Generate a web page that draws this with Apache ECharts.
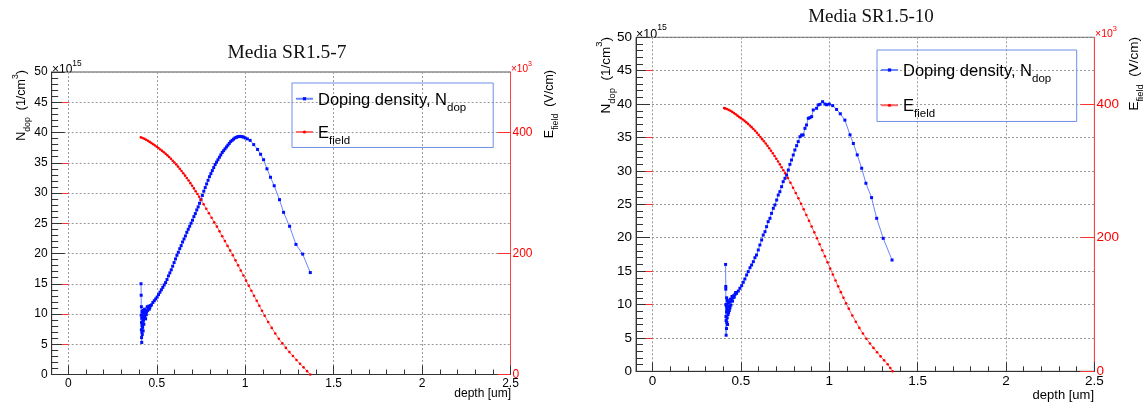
<!DOCTYPE html>
<html><head><meta charset="utf-8">
<script src="https://cdn.jsdelivr.net/npm/echarts@6/dist/echarts.min.js"></script>
<style>html,body{margin:0;padding:0;background:#fff}#c{width:1148px;height:405px}</style>
</head><body><div id="c"></div>
<script>
// ---------------- data ----------------
const titles = ['Media SR1.5-7', 'Media SR1.5-10'];
const xMajorTicks = [0, 0.5, 1, 1.5, 2, 2.5];
const xMinorTicks = [0.1,0.2,0.3,0.4,0.6,0.7,0.8,0.9,1.1,1.2,1.3,1.4,1.6,1.7,1.8,1.9,2.1,2.2,2.3,2.4];
const eLabelTicks = [0, 200, 400];
const eMinorTicks = [50,100,150,250,300,350,450];

// Panel 1 (SR1.5-7): doping density [1e15 /cm^3] vs depth [um]
const depthN7 = [
 0.411,0.412,0.412,0.413,0.413,0.414,0.414,0.415,0.415,0.416,
 0.417,0.417,0.418,0.419,0.420,0.421,0.422,0.423,0.424,0.425,
 0.427,0.428,0.430,0.431,0.433,0.435,0.437,0.439,0.441,0.443,
 0.446,0.449,0.452,0.455,0.458,0.461,0.465,
 0.470,0.478,0.486,0.494,0.502,0.510,0.518,0.526,0.534,0.542,
 0.550,0.558,0.566,0.574,0.582,0.590,0.598,0.606,0.614,0.622,
 0.630,0.638,0.646,0.654,0.662,0.670,0.678,0.686,0.694,0.702,
 0.710,0.718,0.726,0.734,0.742,0.750,0.758,0.766,0.774,0.782,
 0.790,0.798,0.806,0.814,0.822,0.830,0.838,0.846,0.854,0.862,
 0.870,0.878,0.886,0.894,0.902,0.910,0.918,0.926,0.934,0.942,
 0.950,0.958,0.966,0.974,0.982,0.990,
 1.000,1.012,1.028,1.048,1.070,1.087,1.104,1.123,1.143,1.164,
 1.194,1.217,1.251,1.287,1.325,1.368
];
const ndop7 = [
 15.0,13.1,9.8,7.4,11.2,6.1,8.6,5.3,9.3,7.0,
 10.4,8.1,6.6,9.6,7.8,10.1,8.8,7.2,10.6,9.0,
 8.3,10.2,9.4,10.8,9.6,10.0,9.2,10.5,9.9,10.4,
 11.2,10.6,10.9,11.3,10.8,11.1,11.4,
 11.5,11.9,12.2,12.5,12.8,13.2,13.6,14.0,14.4,14.8,
 15.2,15.7,16.3,16.8,17.3,17.9,18.5,19.1,19.7,20.2,
 20.8,21.3,21.9,22.4,22.9,23.5,24.0,24.5,25.0,25.5,
 26.1,26.6,27.2,27.7,28.3,28.9,29.6,30.3,30.9,31.5,
 32.1,32.7,33.2,33.7,34.2,34.7,35.1,35.5,35.9,36.3,
 36.7,37.0,37.3,37.6,37.9,38.2,38.5,38.7,38.9,39.1,
 39.2,39.3,39.35,39.35,39.3,39.25,
 39.1,38.95,38.7,38.0,37.2,36.4,35.5,34.0,32.6,31.2,
 28.9,26.8,24.5,21.5,19.9,16.85
];
// Panel 1: electric field [1e3 V/cm] vs depth [um]
const depthE7 = [
 0.41,0.42,0.43,0.44,0.45,0.46,0.47,0.48,0.49,0.50,
 0.51,0.52,0.53,0.54,0.55,0.56,0.57,0.58,0.59,0.60,
 0.61,0.62,0.63,0.64,0.65,0.66,0.67,0.68,0.69,0.70,
 0.71,0.72,0.73,0.74,0.75,0.765,0.78,0.795,0.81,0.825,
 0.84,0.855,0.87,0.885,0.90,0.915,0.93,0.945,0.96,0.975,
 0.99,1.005,1.02,1.035,1.05,1.065,1.08,1.095,1.11,1.13,
 1.15,1.17,1.19,1.21,1.23,1.25,1.27,1.29,1.31,1.33,
 1.35,1.368
];
const efield7 = [
 392,390.8,389.5,388,386.3,384.5,382.6,380.6,378.6,376.5,
 374.3,372,369.7,367.3,364.8,362.2,359.4,356.5,353.4,350.3,
 347,343.6,340,336.4,332.6,328.7,324.7,320.6,316.3,312,
 307.6,303,298.4,293.6,289,281.5,274,266.5,259,251.5,
 244.5,236.6,228.6,220.6,212.6,204.8,197,188.7,180.4,172,
 163.6,155.2,146.8,138.5,130.2,121.9,113.6,105.3,97.2,86.8,
 77,67.8,59,51.5,44,37,30.5,24,17.8,11.8,
 5.5,0
];

// Panel 2 (SR1.5-10)
const depthN10 = [
 0.413,0.414,0.414,0.415,0.415,0.416,0.416,0.417,0.418,0.418,
 0.419,0.420,0.421,0.422,0.423,0.424,0.425,0.427,0.428,0.430,
 0.432,0.434,0.436,0.438,0.440,0.443,0.446,0.449,0.452,0.455,
 0.458,0.462,0.466,0.470,
 0.475,0.485,0.494,0.504,0.513,0.522,0.532,0.541,0.551,0.560,
 0.570,0.579,0.588,0.598,0.607,0.617,0.626,0.636,0.645,0.654,
 0.664,0.673,0.683,0.692,0.702,0.711,0.720,0.730,0.739,0.749,
 0.758,0.768,0.777,0.786,0.796,0.805,0.815,0.824,0.834,0.843,
 0.852,0.862,0.871,0.881,0.890,0.900,0.909,0.928,0.937,0.947,
 0.962,0.975,0.985,1.000,1.019,
 1.041,1.062,1.088,1.117,1.136,1.158,1.183,1.207,1.239,1.268,
 1.305,1.355
];
const ndop10 = [
 16.0,12.7,12.3,8.2,10.0,5.4,7.6,9.8,6.4,8.9,
 11.0,7.3,9.4,8.0,10.6,7.0,9.1,8.5,10.2,8.8,
 9.7,9.1,10.4,9.5,10.8,9.9,10.7,11.2,10.5,11.0,
 11.3,11.1,11.5,11.8,
 11.67,12.02,12.43,12.82,13.32,13.82,14.42,14.92,15.51,15.91,
 16.41,17.01,17.41,18.16,18.91,19.66,20.40,20.90,21.65,22.40,
 22.90,23.65,24.40,24.90,25.64,26.39,26.89,27.64,28.39,28.89,
 29.39,30.13,30.98,31.63,32.38,33.13,33.78,34.38,35.12,35.37,
 35.37,36.37,36.87,37.87,37.97,38.12,39.12,39.37,39.87,39.97,
 40.36,40.01,39.90,40.00,39.77,
 39.2,38.55,37.6,35.4,34.1,32.4,30.4,28.15,26.0,22.9,
 19.9,16.66
];
const depthE10 = [
 0.405,0.41,0.42,0.43,0.44,0.45,0.46,0.47,0.48,0.49,
 0.50,0.51,0.52,0.53,0.54,0.55,0.56,0.57,0.58,0.59,
 0.60,0.61,0.62,0.63,0.64,0.65,0.66,0.67,0.68,0.69,
 0.70,0.71,0.72,0.73,0.74,0.75,0.765,0.78,0.795,0.81,
 0.825,0.84,0.855,0.87,0.885,0.90,0.915,0.93,0.945,0.96,
 0.975,0.99,1.005,1.02,1.035,1.05,1.065,1.08,1.095,1.11,
 1.13,1.15,1.17,1.19,1.21,1.23,1.25,1.27,1.29,1.31,
 1.33,1.345,1.358
];
const efield10 = [
 394,393.6,392.6,391.4,390,388.4,386.6,384.7,382.7,380.8,
 379,377,374.9,372.7,370.4,368,365.5,362.8,360,357,
 353.9,350.6,347.5,344.3,341,337.5,333.9,330.2,326.4,322.4,
 318.3,314.1,309.8,305.4,301,296.5,289.5,282.3,274.8,267,
 259,250.8,242.5,234,225.4,216.7,208,199.2,190.3,181.3,
 172.2,163.1,154,145,136,127.2,118.5,110,101.8,93.8,
 83.6,74,65,56.6,48.8,41.6,35,28.6,22.4,16.4,
 10.6,5,0
];

// ---------------- styling / layout ----------------
const FONT = 'Liberation Sans';
const SERIF = 'Liberation Serif';
const panels = [
  { key:'7', depthN:depthN7, ndop:ndop7, depthE:depthE7, efield:efield7,
    grid:{left:51.7, top:72, right:637.5, bottom:30.5}, fs:12, efs:12, majX:9, minX:5, majY:13, minY:6.5,
    title:{x:287, y:53, size:19.5},
    legend:{left:292, top:83, fs:16.5, sub:11.5, pad:[7.5,27,0.5,3], gap:10},
    yTitle:{x:17, y:70, fs:12.5}, eTitle:{x:545, y:70, fs:12.5},
    mult15:{x:52, y:72, fs:12}, mult3:{x:511, y:71, fs:10},
    depth:{x:511, y:394, fs:12} },
  { key:'10', depthN:depthN10, ndop:ndop10, depthE:depthE10, efield:efield10,
    grid:{left:636, top:37.3, right:53.6, bottom:33.7}, fs:13.5, efs:13.5, majX:9, minX:5, majY:14, minY:7,
    title:{x:871, y:17, size:19},
    legend:{left:877, top:50, fs:16.5, sub:11.5, pad:[11.75,25.5,1.25,3], gap:12},
    yTitle:{x:602, y:37, fs:13.5}, eTitle:{x:1130, y:37, fs:13.5},
    mult15:{x:636, y:36, fs:12.5}, mult3:{x:1095, y:36, fs:10.5},
    depth:{x:1094, y:395, fs:13} }
];

const grids = [], xAxes = [], yAxes = [], series = [], legends = [], graphics = [];
const axisDark = '#333';
const red = '#ff0000';

panels.forEach((p, i) => {
  grids.push(Object.assign({show:true, borderColor:'#555', borderWidth:1, backgroundColor:'transparent'}, p.grid));
  const xi = xAxes.length;
  xAxes.push({
    type:'value', gridIndex:i, position:'bottom', min:-0.094, max:2.5, minInterval:0.5, maxInterval:0.5,
    axisLine:{show:true, onZero:false, lineStyle:{color:axisDark, width:1}},
    axisTick:{show:true, inside:true, length:p.majX, customValues:xMajorTicks, lineStyle:{color:axisDark}},
    axisLabel:{show:true, customValues:xMajorTicks, margin:3, fontFamily:FONT, fontSize:p.fs, color:'#000',
      formatter: v => String(v)},
    splitLine:{show:true, lineStyle:{color:'#9a9a9a', type:[2,2], width:1}}
  });
  xAxes.push({
    type:'value', gridIndex:i, position:'bottom', min:-0.094, max:2.5, minInterval:0.5, maxInterval:0.5,
    axisLine:{show:false}, axisLabel:{show:false}, splitLine:{show:false},
    axisTick:{show:true, inside:true, length:p.minX, customValues:xMinorTicks, lineStyle:{color:axisDark}}
  });
  const yi = yAxes.length;
  yAxes.push({
    type:'value', gridIndex:i, position:'left', min:0, max:50, interval:5,
    axisLine:{show:true, onZero:false, lineStyle:{color:axisDark, width:1}},
    axisTick:{show:true, inside:true, length:p.majY, lineStyle:{color:axisDark}},
    minorTick:{show:true, splitNumber:5, length:p.minY, lineStyle:{color:axisDark}},
    axisLabel:{show:true, margin:4, fontFamily:FONT, fontSize:p.fs, color:'#000'},
    splitLine:{show:true, lineStyle:{color:'#9a9a9a', type:[2,2], width:1}}
  });
  yAxes.push({
    type:'value', gridIndex:i, position:'right', min:0, max:500, minInterval:100, maxInterval:100,
    axisLine:{show:true, onZero:false, lineStyle:{color:'#ff4040', width:1}},
    axisTick:{show:true, inside:true, length:p.majY, customValues:eLabelTicks, lineStyle:{color:'#ff3030'}},
    axisLabel:{show:true, customValues:eLabelTicks, margin:2, fontFamily:FONT, fontSize:p.efs, color:red},
    splitLine:{show:false}
  });
  yAxes.push({
    type:'value', gridIndex:i, position:'right', min:0, max:500, minInterval:100, maxInterval:100,
    axisLine:{show:false}, axisLabel:{show:false}, splitLine:{show:false},
    axisTick:{show:true, inside:true, length:p.minY, customValues:eMinorTicks, lineStyle:{color:'#ff3030'}}
  });
  const nName = 'ndop' + p.key, eName = 'efield' + p.key;
  series.push({
    name:nName, type:'line', xAxisIndex:xi, yAxisIndex:yi,
    data:p.depthN.map((d, k) => [d, p.ndop[k]]),
    symbol:'rect', symbolSize:3, showSymbol:true, clip:true,
    itemStyle:{color:'#0010ff'}, lineStyle:{color:'#6a86ff', width:1}, emphasis:{disabled:true}
  });
  series.push({
    name:eName, type:'line', xAxisIndex:xi, yAxisIndex:yi + 1,
    data:p.depthE.map((d, k) => [d, p.efield[k]]),
    symbol:'circle', symbolSize:2.6, showSymbol:true, clip:true,
    itemStyle:{color:'#ff0000'}, lineStyle:{color:'#ff6a6a', width:1}, emphasis:{disabled:true}
  });
  const L = p.legend;
  legends.push({
    orient:'vertical', left:L.left, top:L.top, padding:L.pad, itemGap:L.gap,
    itemWidth:17, itemHeight:4, borderColor:'#6f8fe8', borderWidth:1, selectedMode:false,
    data:[nName, eName],
    formatter: n => n.startsWith('ndop') ? '{a|Doping density, N}{s|dop}' : '{a|E}{s|field}',
    textStyle:{ rich:{
      a:{fontFamily:FONT, fontSize:L.fs, color:'#000', lineHeight:L.fs, verticalAlign:'top', padding:[1,0,0,0]},
      s:{fontFamily:FONT, fontSize:L.sub, color:'#000', lineHeight:L.sub, verticalAlign:'top', padding:[1 + L.fs*0.62,0,0,0]}
    }}
  });
  // text elements
  graphics.push({type:'text', x:p.title.x, y:p.title.y, silent:true,
    style:{text:titles[i], font:`${p.title.size}px "${SERIF}"`, fill:'#111', align:'center', verticalAlign:'middle'}});
  const richAx = (fs, color) => ({
    a:{fontFamily:FONT, fontSize:fs, fill:color, color:color, lineHeight:fs, verticalAlign:'top', padding:[fs*0.33,0,0,0]},
    s:{fontFamily:FONT, fontSize:fs*0.7, fill:color, color:color, lineHeight:fs*0.7, verticalAlign:'top', padding:[fs*0.95,0,0,0]},
    p:{fontFamily:FONT, fontSize:fs*0.7, fill:color, color:color, lineHeight:fs*0.7, verticalAlign:'top', padding:[0,0,0,0]}
  });
  graphics.push({type:'text', x:p.yTitle.x, y:p.yTitle.y, rotation:Math.PI/2, silent:true,
    style:{text:'{a|N}{s|dop}{a|  (1/cm}{p|3}{a|)}', rich:richAx(p.yTitle.fs,'#000'), align:'right', verticalAlign:'middle'}});
  graphics.push({type:'text', x:p.eTitle.x, y:p.eTitle.y, rotation:Math.PI/2, silent:true,
    style:{text:'{a|E}{s|field}{a|  (V/cm)}', rich:richAx(p.eTitle.fs,'#000'), align:'right', verticalAlign:'middle'}});
  graphics.push({type:'text', x:p.mult15.x, y:p.mult15.y, silent:true,
    style:{text:'{a|\u00d710}{p|15}', rich:richAx(p.mult15.fs,'#000'), align:'left', verticalAlign:'bottom'}});
  graphics.push({type:'text', x:p.mult3.x, y:p.mult3.y, silent:true,
    style:{text:'{a|\u00d710}{p|3}', rich:richAx(p.mult3.fs,red), align:'left', verticalAlign:'bottom'}});
  graphics.push({type:'text', x:p.depth.x, y:p.depth.y, silent:true,
    style:{text:'depth [um]', font:`${p.depth.fs}px "${FONT}"`, fill:'#000', align:'right', verticalAlign:'middle'}});
});

const chart = echarts.init(document.getElementById('c'), null, {renderer:'canvas'});
chart.setOption({
  animation:false,
  backgroundColor:'#fff',
  textStyle:{fontFamily:FONT},
  grid:grids, xAxis:xAxes, yAxis:yAxes, series:series, legend:legends,
  graphic:{elements:graphics}
});
</script></body></html>
